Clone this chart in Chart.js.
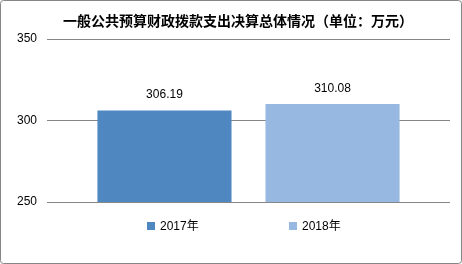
<!DOCTYPE html>
<html>
<head>
<meta charset="utf-8">
<script src="https://cdn.jsdelivr.net/npm/chart.js@4/dist/chart.umd.min.js"></script>
<style>
    body { margin: 0; background: #fff; }
    canvas { display: block; }
</style>
</head>
<body>
<canvas id="budgetChart" width="462" height="264"></canvas>
<script>
// chart data
const categories = [''];
const seriesLabels = ['2017年', '2018年'];
const seriesValues = [306.19, 310.08];
const seriesColors = ['#4F87C0', '#97B8E0'];
const yTicks = [250, 300, 350];

const titleText = '一般公共预算财政拨款支出决算总体情况（单位：万元）';
const shiftLeft = 26; // title and legend sit a bit right of canvas centre

// frame round the whole chart
const framePlugin = {
    id: 'frame',
    beforeDraw(chart) {
        const ctx = chart.ctx;
        ctx.save();
        ctx.strokeStyle = '#868686';
        ctx.lineWidth = 1;
        ctx.beginPath();
        ctx.roundRect(0.5, 0.5, chart.width - 1, chart.height - 1, 3);
        ctx.stroke();
        ctx.restore();
    },
    afterLayout(chart) {
        if (chart.titleBlock) chart.titleBlock.left += shiftLeft;
    }
};

// value labels above the bars
const valueLabelPlugin = {
    id: 'valueLabels',
    afterDatasetsDraw(chart) {
        const ctx = chart.ctx;
        ctx.save();
        ctx.font = '12px "Liberation Sans", Arial, sans-serif';
        ctx.fillStyle = '#000';
        ctx.textAlign = 'center';
        ctx.textBaseline = 'alphabetic';
        chart.data.datasets.forEach((ds, i) => {
            chart.getDatasetMeta(i).data.forEach((bar, j) => {
                ctx.fillText(ds.data[j].toFixed(2), bar.x, bar.y - 12);
            });
        });
        ctx.restore();
    }
};

// legend at the bottom, Excel style spacing
const bottomLegendPlugin = {
    id: 'bottomLegend',
    afterDraw(chart) {
        const ctx = chart.ctx;
        const box = 8, gap = 5, spacing = 90;
        ctx.save();
        ctx.font = '12px "Liberation Sans", Arial, "Noto Sans CJK SC", sans-serif';
        const items = chart.data.datasets.map(ds => ({
            text: ds.label,
            color: ds.backgroundColor,
            w: box + gap + ctx.measureText(ds.label).width
        }));
        const total = items.reduce((s, it) => s + it.w, 0) + spacing * (items.length - 1);
        let x = (shiftLeft + chart.width) / 2 - total / 2;
        const cy = 226;
        ctx.textBaseline = 'middle';
        ctx.textAlign = 'left';
        items.forEach(it => {
            ctx.fillStyle = it.color;
            ctx.fillRect(Math.round(x), cy - box / 2, box, box);
            ctx.fillStyle = '#000';
            ctx.fillText(it.text, Math.round(x) + box + gap, cy + 1);
            x += it.w + spacing;
        });
        ctx.restore();
    }
};

const ctx = document.getElementById('budgetChart').getContext('2d');
new Chart(ctx, {
    type: 'bar',
    data: {
        labels: categories,
        datasets: seriesLabels.map((label, i) => ({
            label: label,
            data: [seriesValues[i]],
            backgroundColor: seriesColors[i],
            borderWidth: 0,
            categoryPercentage: 0.834,
            barPercentage: 0.798
        }))
    },
    options: {
        responsive: false,
        animation: false,
        layout: {
            padding: { left: 0, right: 12, top: 0, bottom: 62 }
        },
        scales: {
            x: { display: false },
            y: {
                min: yTicks[0],
                max: yTicks[yTicks.length - 1],
                afterBuildTicks: function(scale) {
                    scale.ticks = yTicks.map(v => ({ value: v }));
                },
                afterFit: function(scale) {
                    scale.width = 47;
                },
                border: { display: false },
                grid: { color: '#868686', drawTicks: false, lineWidth: 1 },
                ticks: {
                    padding: 10,
                    color: '#000',
                    font: { family: '"Liberation Sans", Arial, sans-serif', size: 12 }
                }
            }
        },
        plugins: {
            legend: { display: false },
            tooltip: { enabled: false },
            title: {
                display: true,
                text: titleText,
                color: '#000',
                padding: { top: 12.6, bottom: 9.6 },
                font: { family: '"Noto Sans CJK SC", sans-serif', size: 14, weight: 'bold' }
            }
        }
    },
    plugins: [framePlugin, valueLabelPlugin, bottomLegendPlugin]
});
</script>
</body>
</html>
